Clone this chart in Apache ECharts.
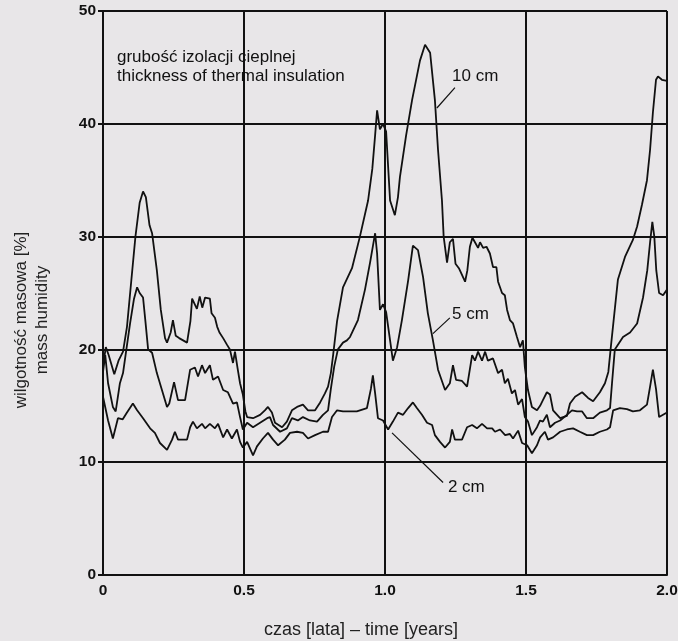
<!DOCTYPE html>
<html>
<head>
<meta charset="utf-8">
<script src="https://cdn.jsdelivr.net/npm/echarts@6/dist/echarts.min.js"></script>
<style>
html,body{margin:0;padding:0;background:#e8e6e8;}
#c{width:678px;height:641px;}
</style>
</head>
<body>
<div id="c"></div>
<script>
// ---- data (time in years, mass humidity in %) ----
var xTicks = [0, 0.5, 1.0, 1.5, 2.0];
var yTicks = [0, 10, 20, 30, 40, 50];

var t10 = [0.000,0.010,0.020,0.040,0.055,0.071,0.085,0.100,0.115,0.130,0.142,0.152,0.165,0.174,0.191,0.205,0.220,0.227,0.240,0.248,0.258,0.270,0.298,0.310,0.316,0.333,0.343,0.352,0.362,0.379,0.385,0.397,0.405,0.413,0.426,0.440,0.450,0.461,0.468,0.478,0.486,0.496,0.505,0.511,0.532,0.557,0.574,0.585,0.599,0.610,0.635,0.652,0.670,0.688,0.709,0.727,0.752,0.770,0.787,0.798,0.808,0.816,0.830,0.851,0.883,0.911,0.940,0.955,0.965,0.972,0.982,0.993,1.004,1.018,1.035,1.046,1.053,1.075,1.096,1.124,1.142,1.160,1.177,1.188,1.202,1.208,1.220,1.230,1.241,1.250,1.262,1.284,1.292,1.301,1.310,1.319,1.330,1.337,1.348,1.360,1.372,1.383,1.395,1.401,1.415,1.425,1.433,1.443,1.454,1.468,1.479,1.489,1.496,1.507,1.521,1.539,1.550,1.560,1.574,1.585,1.596,1.621,1.645,1.656,1.674,1.699,1.720,1.738,1.762,1.780,1.792,1.800,1.826,1.851,1.879,1.894,1.911,1.929,1.940,1.950,1.961,1.968,1.982,2.000];
var v10 = [18.5,20.2,19.5,17.8,19.0,19.8,22.0,26.0,30.0,33.0,34.0,33.5,31.0,30.3,27.0,23.5,21.0,20.6,21.5,22.6,21.2,21.0,20.6,22.5,24.5,23.6,24.7,23.7,24.6,24.5,23.2,22.8,22.0,21.5,21.0,20.4,20.0,18.8,19.8,18.2,17.0,16.0,14.5,14.0,13.9,14.2,14.6,14.9,14.4,13.5,13.1,13.6,14.6,14.9,15.1,14.6,14.6,15.3,16.1,16.7,17.9,19.5,22.5,25.5,27.2,30.0,33.2,36.0,39.0,41.2,39.5,40.0,39.3,33.2,31.9,33.5,35.3,39.0,42.1,45.6,47.0,46.3,42.1,37.7,33.2,30.0,27.7,29.5,29.8,27.6,27.2,26.0,27.0,29.1,29.9,29.5,29.0,29.5,29.0,29.1,28.5,27.3,27.3,26.0,25.0,24.8,23.5,22.6,22.3,21.1,20.2,20.8,18.4,16.4,14.9,14.6,15.0,15.5,16.2,16.0,14.6,13.9,14.1,15.2,15.8,16.2,15.7,15.4,16.2,17.0,18.0,20.0,26.2,28.2,29.7,30.9,32.8,35.0,37.7,41.0,43.9,44.2,43.9,43.8];

var t5 = [0.000,0.008,0.018,0.035,0.045,0.060,0.071,0.096,0.110,0.121,0.130,0.142,0.150,0.160,0.174,0.191,0.209,0.227,0.235,0.252,0.266,0.291,0.309,0.326,0.337,0.351,0.362,0.379,0.390,0.408,0.426,0.443,0.461,0.475,0.486,0.496,0.511,0.532,0.557,0.582,0.592,0.603,0.628,0.652,0.670,0.691,0.709,0.734,0.759,0.780,0.798,0.808,0.820,0.833,0.851,0.865,0.876,0.904,0.929,0.947,0.965,0.972,0.982,0.993,1.004,1.018,1.028,1.043,1.060,1.082,1.099,1.117,1.135,1.152,1.170,1.188,1.213,1.230,1.241,1.252,1.273,1.291,1.309,1.319,1.330,1.344,1.355,1.365,1.383,1.401,1.415,1.425,1.436,1.450,1.461,1.472,1.486,1.496,1.507,1.521,1.539,1.550,1.560,1.574,1.585,1.603,1.621,1.645,1.663,1.681,1.699,1.716,1.738,1.762,1.787,1.798,1.805,1.815,1.844,1.869,1.894,1.915,1.930,1.940,1.948,1.955,1.962,1.972,1.986,2.000];
var v5 = [18.0,19.5,17.0,14.9,14.5,17.0,17.9,22.3,24.5,25.5,25.0,24.6,22.6,20.0,19.7,17.9,16.4,14.9,15.2,17.1,15.5,15.5,18.2,18.4,17.6,18.6,17.9,18.6,17.3,17.6,16.4,16.2,15.2,15.3,14.0,12.9,13.5,13.1,13.5,13.9,14.0,13.3,12.7,13.0,13.9,13.7,14.0,13.7,13.6,14.2,14.6,16.5,18.5,20.0,20.6,20.8,21.1,22.6,25.3,27.7,30.3,28.5,23.5,24.0,23.3,20.8,19.0,20.2,22.6,26.1,29.2,28.8,26.4,23.2,20.8,18.2,16.4,17.0,18.6,17.3,17.2,16.7,19.5,19.0,19.8,19.0,19.8,19.0,19.2,17.9,18.2,17.0,17.4,16.1,16.4,15.1,15.6,14.0,13.6,12.4,13.1,13.7,13.6,14.2,13.1,13.5,13.7,14.2,14.6,14.5,14.5,13.9,13.9,14.4,14.6,14.8,17.0,20.0,21.1,21.5,22.3,24.6,27.0,29.5,31.3,30.0,27.0,25.0,24.8,25.3];

var t2 = [0.000,0.018,0.035,0.053,0.070,0.085,0.106,0.121,0.142,0.167,0.184,0.202,0.227,0.245,0.255,0.266,0.298,0.309,0.319,0.333,0.351,0.362,0.379,0.397,0.408,0.426,0.440,0.457,0.475,0.486,0.496,0.511,0.532,0.546,0.567,0.585,0.603,0.621,0.645,0.663,0.688,0.709,0.727,0.752,0.780,0.798,0.812,0.830,0.851,0.876,0.900,0.936,0.950,0.957,0.965,0.975,0.993,1.011,1.028,1.046,1.064,1.082,1.099,1.113,1.131,1.149,1.167,1.177,1.195,1.213,1.230,1.238,1.248,1.273,1.291,1.309,1.326,1.344,1.362,1.380,1.390,1.408,1.426,1.443,1.454,1.472,1.486,1.504,1.521,1.539,1.550,1.567,1.578,1.596,1.621,1.645,1.667,1.691,1.716,1.738,1.762,1.787,1.798,1.809,1.833,1.858,1.879,1.904,1.929,1.940,1.950,1.961,1.972,1.986,2.000];
var v2 = [15.8,13.7,12.1,13.9,13.8,14.4,15.2,14.6,13.9,13.0,12.6,11.7,11.1,12.0,12.7,12.0,12.0,13.1,13.6,13.0,13.4,13.0,13.4,13.0,13.4,12.2,12.9,12.1,12.9,11.8,11.3,11.8,10.6,11.4,12.1,12.6,12.0,11.5,12.0,12.6,12.7,12.6,12.1,12.4,12.7,12.7,14.0,14.6,14.5,14.5,14.5,14.8,16.5,17.7,16.1,13.9,13.7,12.9,13.6,14.4,14.2,14.8,15.3,14.8,14.2,13.5,13.3,12.4,11.8,11.3,11.8,12.9,12.0,12.0,13.1,13.3,13.0,13.4,13.0,13.0,12.7,12.9,12.4,12.5,12.1,12.8,11.7,11.5,10.8,11.5,12.2,12.7,12.0,12.2,12.7,12.9,13.0,12.7,12.4,12.4,12.7,12.9,13.1,14.6,14.8,14.7,14.5,14.6,15.1,16.7,18.2,16.5,14.0,14.2,14.4];

var seriesNames = ['10 cm', '5 cm', '2 cm'];
var noteLines = ['grubość izolacji cieplnej', 'thickness of thermal insulation'];

function pairs(ts, vs) { return ts.map(function (t, i) { return [t, vs[i]]; }); }

var FONT = '"Liberation Sans", Arial, Helvetica, sans-serif';
var INK = '#111';

function lineSeries(name, ts, vs, leaderFrom, leaderTo, textAt) {
  return {
    name: name,
    type: 'line',
    data: pairs(ts, vs),
    showSymbol: false,
    symbol: 'none',
    smooth: false,
    lineStyle: { color: INK, width: 1.8 },
    z: 5,
    markLine: {
      silent: true,
      symbol: 'none',
      label: { show: false },
      lineStyle: { color: INK, width: 1.2, type: 'solid' },
      data: [[{ coord: leaderFrom }, { coord: leaderTo }]]
    },
    markPoint: {
      silent: true,
      symbol: 'circle',
      symbolSize: 0,
      label: {
        show: true,
        formatter: name,
        position: [0, 0],
        align: 'left',
        verticalAlign: 'middle',
        color: INK,
        fontFamily: FONT,
        fontSize: 17
      },
      data: [{ coord: textAt }]
    }
  };
}

var chart = echarts.init(document.getElementById('c'), null, { renderer: 'canvas' });
chart.setOption({
  backgroundColor: '#e8e6e8',
  animation: false,
  title: {
    text: noteLines.join('\n'),
    left: 112,
    top: 43,
    textStyle: { color: INK, fontFamily: FONT, fontSize: 17, fontWeight: 'normal', lineHeight: 19 }
  },
  grid: { left: 103, right: 11, top: 11, bottom: 66, containLabel: false, outerBoundsMode: 'none' },
  xAxis: {
    type: 'value',
    min: xTicks[0],
    max: xTicks[xTicks.length - 1],
    interval: 0.5,
    name: 'czas [lata] – time [years]',
    nameLocation: 'middle',
    nameGap: 46,
    nameTextStyle: { color: '#222', fontFamily: FONT, fontSize: 18, padding: [0, 48, 0, 0] },
    axisLine: { lineStyle: { color: INK, width: 2 } },
    axisTick: { show: false },
    axisLabel: {
      margin: 8,
      color: INK,
      fontFamily: FONT,
      fontWeight: 'bold',
      fontSize: 15.5,
      formatter: function (v) { return v === 0 ? '0' : v.toFixed(1); }
    },
    splitLine: { show: true, lineStyle: { color: INK, width: 2 } }
  },
  yAxis: {
    type: 'value',
    min: yTicks[0],
    max: yTicks[yTicks.length - 1],
    interval: 10,
    name: 'wilgotność masowa [%]\nmass humidity',
    nameLocation: 'middle',
    nameGap: 50,
    nameTextStyle: { color: '#222', fontFamily: FONT, fontSize: 17, lineHeight: 21, padding: [0, 54, 0, 0] },
    axisLine: { show: true, lineStyle: { color: INK, width: 2 } },
    axisTick: { show: true, length: 5, lineStyle: { color: INK, width: 2 } },
    axisLabel: { margin: 7, color: INK, fontFamily: FONT, fontWeight: 'bold', fontSize: 15.5 },
    splitLine: { show: true, lineStyle: { color: INK, width: 2 } }
  },
  series: [
    lineSeries(seriesNames[0], t10, v10, [1.184, 41.4], [1.248, 43.2], [1.238, 44.2]),
    lineSeries(seriesNames[1], t5, v5, [1.170, 21.4], [1.230, 22.8], [1.238, 23.1]),
    lineSeries(seriesNames[2], t2, v2, [1.025, 12.6], [1.206, 8.2], [1.223, 7.8])
  ]
});
</script>
</body>
</html>
